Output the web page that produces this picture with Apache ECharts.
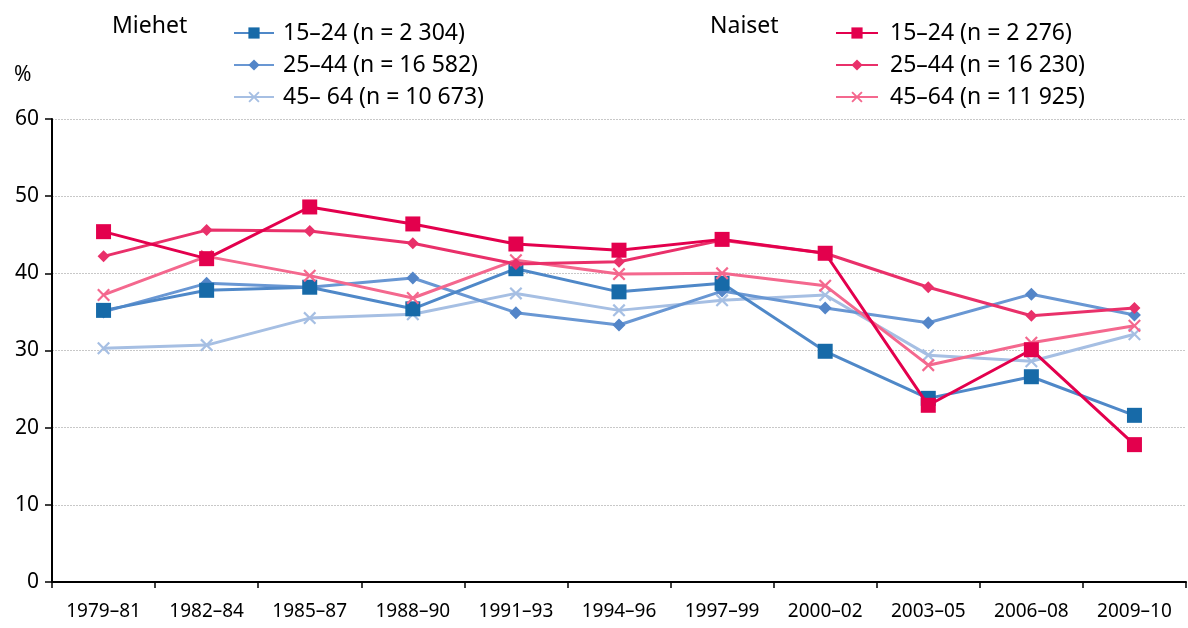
<!DOCTYPE html>
<html><head><meta charset="utf-8">
<script src="https://cdn.jsdelivr.net/npm/echarts@6/dist/echarts.min.js"></script>
<style>html,body{margin:0;padding:0;background:#fff}#c{width:1188px;height:628px}</style>
</head><body><div id="c"></div>
<script>
const categories = ['1979–81','1982–84','1985–87','1988–90','1991–93','1994–96','1997–99','2000–02','2003–05','2006–08','2009–10'];
const yTicks = [0,10,20,30,40,50,60];
const men1524 = [35.2,37.8,38.2,35.4,40.6,37.6,38.7,29.9,23.8,26.6,21.6];
const men2544 = [35.0,38.7,38.2,39.4,34.9,33.3,37.7,35.5,33.6,37.3,34.6];
const men4564 = [30.3,30.7,34.2,34.7,37.4,35.2,36.5,37.2,29.4,28.6,32.1];
const women1524 = [45.4,41.9,48.6,46.4,43.8,43.0,44.4,42.6,22.9,30.1,17.8];
const women2544 = [42.2,45.6,45.5,43.9,41.2,41.5,44.3,42.6,38.2,34.5,35.5];
const women4564 = [37.2,42.2,39.7,36.8,41.7,39.9,40.0,38.4,28.1,31.0,33.2];
const menNames = ['15–24 (n = 2 304)','25–44 (n = 16 582)','45– 64 (n = 10 673)'];
const womenNames = ['15–24 (n = 2 276)','25–44 (n = 16 230)','45–64 (n = 11 925)'];

const FONT = '"Noto Sans", sans-serif';
const X = 'path://M0,1.2L1.2,0L5,3.8L8.8,0L10,1.2L6.2,5L10,8.8L8.8,10L5,6.2L1.2,10L0,8.8L3.8,5Z';
function s(name, data, line, mark, symbol, size, z){
  return {name, type:'line', data, symbol, symbolSize:size, z,
    lineStyle:{color:line, width:3}, itemStyle:{color:mark}};
}
const chart = echarts.init(document.getElementById('c'));
chart.setOption({
  animation:false,
  textStyle:{fontFamily:FONT},
  grid:{left:52, right:2, top:119, bottom:46},
  graphic:[
    {type:'text', left:112, top:15, style:{text:'Miehet', fontSize:23, fontFamily:FONT, fill:'#000'}},
    {type:'text', left:710, top:15, style:{text:'Naiset', fontSize:23, fontFamily:FONT, fill:'#000'}},
    {type:'text', left:14, top:65, style:{text:'%', fontSize:21, fontFamily:FONT, fill:'#000'}}
  ],
  legend:[
    {data:menNames, orient:'vertical', left:228, top:16, itemWidth:40, itemHeight:14, itemGap:8,
      textStyle:{fontSize:23, lineHeight:24, fontFamily:FONT, color:'#000', padding:[0,0,0,4]}},
    {data:womenNames, orient:'vertical', left:830, top:16, itemWidth:42, itemHeight:14, itemGap:8,
      textStyle:{fontSize:23, lineHeight:24, fontFamily:FONT, color:'#000', padding:[0,0,0,7]}}
  ],
  xAxis:{type:'category', data:categories, boundaryGap:true,
    axisLine:{lineStyle:{color:'#000', width:2}},
    axisTick:{show:true, length:6, lineStyle:{color:'#000', width:1.5}},
    axisLabel:{fontSize:19, color:'#000', margin:20, fontFamily:FONT, interval:0}},
  yAxis:{type:'value', min:0, max:60, interval:10,
    axisLine:{show:true, lineStyle:{color:'#000', width:2}},
    axisTick:{show:true, length:7, lineStyle:{color:'#000', width:1.5}},
    axisLabel:{fontSize:21, color:'#000', margin:13, fontFamily:FONT},
    splitLine:{show:true, lineStyle:{color:'#c8c8c8', type:[2,1], width:1.2}}},
  series:[
    s(menNames[2], men4564, '#a6bfe3', '#a6bfe3', X, 13, 2),
    s(menNames[1], men2544, '#6997d3', '#5385c8', 'diamond', 13, 3),
    s(menNames[0], men1524, '#4f88c8', '#176aa8', 'rect', 15, 4),
    s(womenNames[2], women4564, '#f4688e', '#f4688e', X, 13, 5),
    s(womenNames[1], women2544, '#e9306a', '#e9306a', 'diamond', 12, 6),
    s(womenNames[0], women1524, '#e3004d', '#e3004d', 'rect', 15, 7)
  ]
});
</script></body></html>
